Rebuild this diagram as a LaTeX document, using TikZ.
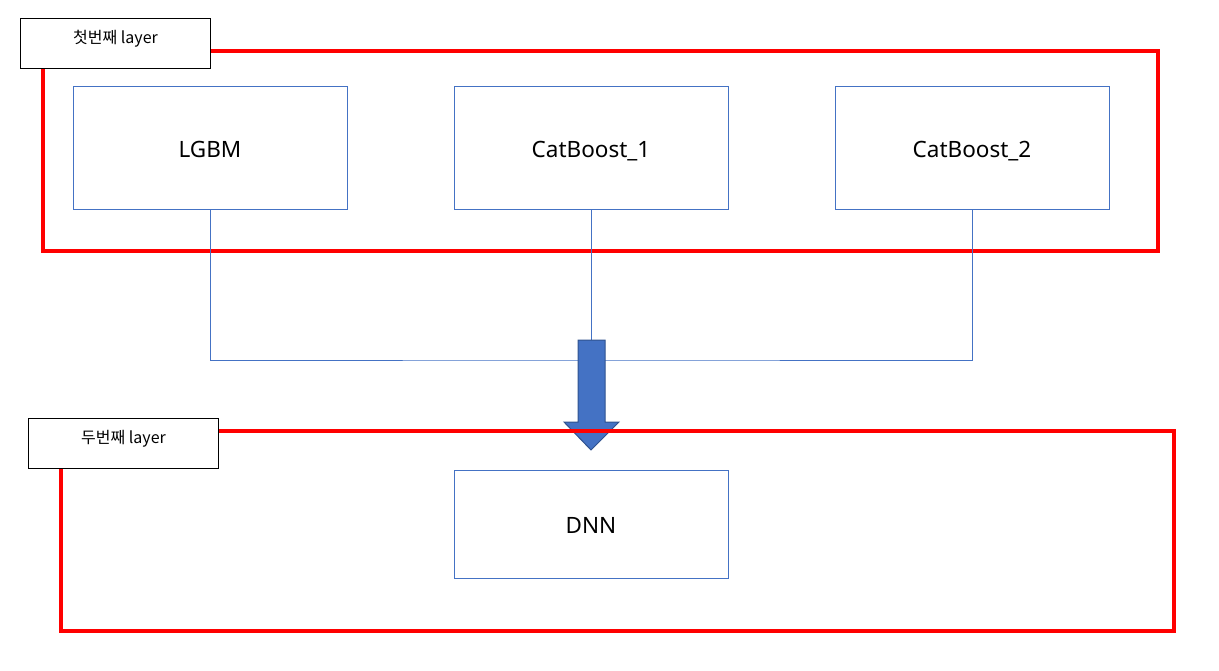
\documentclass[tikz,border=0pt]{standalone}
\usepackage{fontspec}
\setmainfont{Noto Sans}
\newfontfamily\kr{Noto Sans CJK KR}
\definecolor{boxblue}{HTML}{4472C4}
\definecolor{arrowedge}{HTML}{2F528F}
\definecolor{layerred}{HTML}{FF0000}
\begin{document}
\begin{tikzpicture}[x=1pt,y=-1pt,
  model/.style={draw=boxblue,line width=0.9pt,fill=white,minimum width=274pt,minimum height=123pt,inner sep=0pt,font=\fontsize{22.5}{24}\selectfont},
  layerframe/.style={draw=layerred,line width=3.5pt},
  tag/.style={draw=black,line width=1pt,fill=white,minimum width=190pt,minimum height=50pt,inner sep=0pt,font=\kr\fontsize{16}{18}\selectfont},
  link/.style={draw=boxblue,line width=0.9pt}]
\useasboundingbox (0,0) rectangle (1219,670);
% first layer
\draw[layerframe] (43,51) rectangle (1158,251);
\node[tag,anchor=north west] (tag1) at (20,18) {\raisebox{0pt}[0pt][0pt]{첫번째 layer}};
\node[model] (lgbm) at (210,147.5) {\raisebox{-10pt}[0pt][0pt]{LGBM}};
\node[model] (cb1) at (591,147.5) {\raisebox{-10pt}[0pt][0pt]{CatBoost\_1}};
\node[model] (cb2) at (972,147.5) {\raisebox{-10pt}[0pt][0pt]{CatBoost\_2}};
% connectors
\coordinate (join) at (591,360);
\draw[link] (lgbm.south) |- (join) -| (cb2.south);
\draw[link] (cb1.south) -- (join);
% big arrow
\filldraw[fill=boxblue,draw=arrowedge,line width=1pt]
  (578,340) -- (605,340) -- (605,422) -- (619,422) -- (591,450) -- (564,422) -- (578,422) -- cycle;
% second layer
\draw[layerframe] (61,431) rectangle (1174,631);
\node[tag,anchor=north west] (tag2) at (28,418) {\raisebox{0pt}[0pt][0pt]{두번째 layer}};
\node[model,minimum height=108pt] (dnn) at (591,524) {\raisebox{-9pt}[0pt][0pt]{DNN}};
\end{tikzpicture}
\end{document}
